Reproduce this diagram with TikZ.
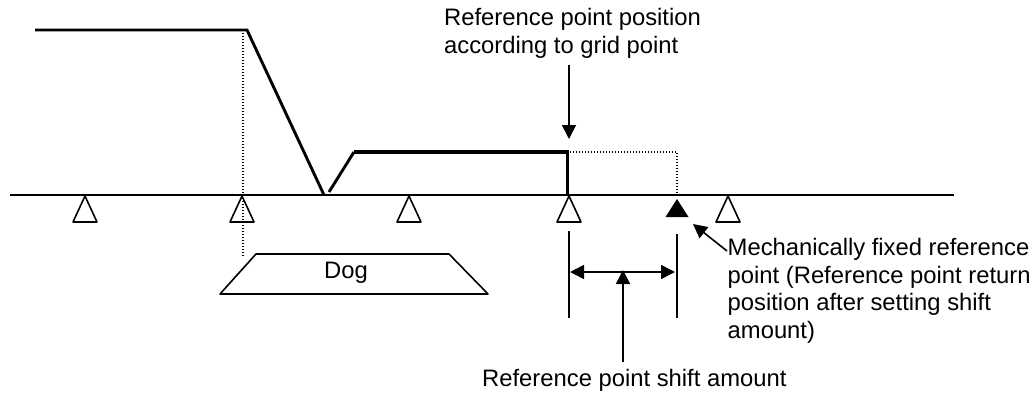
\documentclass[tikz,border=0pt]{standalone}
\usepackage{fontspec}
\setmainfont{Liberation Sans}
\usetikzlibrary{arrows.meta}
\tikzset{
  px/.style={x=1pt,y=-1pt},
  thin line/.style={draw=black,line width=1.6pt},
  base line/.style={draw=black,line width=2pt},
  thick line/.style={draw=black,line width=3.6pt,line join=miter},
  mid line/.style={draw=black,line width=2.9pt},
  dot line/.style={draw=black,line width=1.3pt,dash pattern=on 1.4pt off 1.6pt},
  arr/.style={draw=black,line width=1.6pt,-{Triangle[length=14pt,width=14pt]}},
  darr/.style={draw=black,line width=1.6pt,{Triangle[length=14pt,width=14pt]}-{Triangle[length=14pt,width=14pt]}},
  lbl/.style={font=\fontsize{23.8pt}{27.6pt}\selectfont,inner sep=0pt,align=left,text=black},
  grid tri/.style={thin line,line join=round},
}
\begin{document}
\begin{tikzpicture}[px]
\useasboundingbox (0,0) rectangle (1036,394);
% baseline
\coordinate (bl) at (10,195); \coordinate (br) at (954,195);
\draw[base line] (bl) -- (br);
% dotted guides
\coordinate (t1) at (243,30); \coordinate (t2) at (243,257);
\draw[dot line] (t1) -- (t2);
\coordinate (s1) at (570,152); \coordinate (s2) at (677,152); \coordinate (s3) at (677,193);
\draw[dot line] (s1) -- (s2) -- (s3);
% grid triangles
\foreach \n/\x in {g1/85,g2/242,g3/409,g4/569,g5/728}{
  \coordinate (\n) at (\x,196);
  \draw[grid tri] (\n) -- ++(-12,26) -- ++(24,0) -- cycle;
}
% fixed point
\coordinate (fp) at (677,199);
\fill[black] (fp) -- ++(-11.5,18) -- ++(23,0) -- cycle;
% dog speed profile
\coordinate (a) at (35,30); \coordinate (b) at (247,30); \coordinate (c) at (324,195);
\coordinate (d) at (329,192); \coordinate (e) at (354,152); \coordinate (f) at (567.5,152); \coordinate (h) at (567.5,195);
\draw[mid line,line join=miter] (a) -- (b) -- (c);
\draw[mid line] (d) -- (e);
\draw[thick line] (e) -- (f) -- (h);
% Dog
\coordinate (d1) at (220,294); \coordinate (d2) at (256,254); \coordinate (d3) at (449,254); \coordinate (d4) at (488,294);
\draw[thin line,line join=round] (d1) -- (d2) -- (d3) -- (d4) -- cycle;
\node[lbl,anchor=base] (dog) at (346,278) {Dog};
% reference lines
\coordinate (v1a) at (569,231); \coordinate (v1b) at (569,318);
\coordinate (v2a) at (677,234); \coordinate (v2b) at (677,318);
\draw[thin line] (v1a) -- (v1b);
\draw[thin line] (v2a) -- (v2b);
\coordinate (ha) at (570,272); \coordinate (hb) at (675,272);
\draw[darr] (ha) -- (hb);
% labels
\node[lbl,anchor=north west] (top) at (444,8) {Reference point position\\according to grid point};
\node[lbl,anchor=north west] (mech) at (727.5,238) {Mechanically fixed reference\\point (Reference point return\\position after setting shift\\amount)};
\node[lbl,anchor=base west] (shift) at (482,386) {Reference point shift amount};
% arrows
\coordinate (ts) at (569,65); \coordinate (te) at (569,139);
\draw[arr] (ts) -- (te);
\coordinate (ms) at (727,251); \coordinate (me) at (693,224);
\draw[arr] (ms) -- (me);
\coordinate (ss) at (623,362); \coordinate (se) at (623,270);
\draw[arr] (ss) -- (se);
\end{tikzpicture}
\end{document}
